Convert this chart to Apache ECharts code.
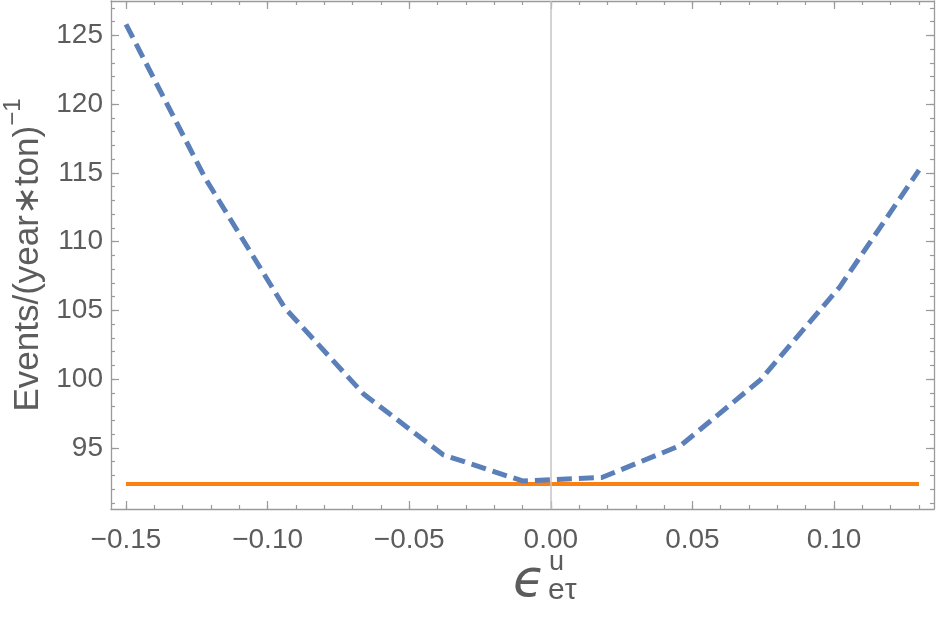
<!DOCTYPE html>
<html>
<head>
<meta charset="utf-8">
<script src="https://cdn.jsdelivr.net/npm/echarts@6/dist/echarts.min.js"></script>
<style>
  html, body { margin: 0; padding: 0; background: #fff; }
  #chart { width: 938px; height: 617px; }
</style>
</head>
<body>
<div id="chart"></div>
<script>
// values
const epsValues = [-0.15, -0.122, -0.094, -0.066, -0.038, -0.01, 0.018, 0.046, 0.074, 0.102, 0.13];
const eventRates = [125.8, 114.6, 105.2, 98.9, 94.5, 92.6, 92.85, 95.2, 99.95, 106.7, 115.2];
const smRangeX = [-0.15, 0.13];
const smRate = [92.38, 92.38];

const xMajorTicks = [-0.15, -0.10, -0.05, 0.00, 0.05, 0.10];
const yMajorTicks = [95, 100, 105, 110, 115, 120, 125];

const xMinorTicks = [];
for (let i = -15; i <= 13; i++) xMinorTicks.push(i / 100);
const yMinorTicks = [];
for (let v = 91; v <= 127; v++) yMinorTicks.push(v);

const chart = echarts.init(document.getElementById('chart'));

const frameColor = '#9a9a9a';
const labelColor = '#5c5c5c';
const font = 'Liberation Sans';
const X_MIN = -0.1553, X_MAX = 0.1353;
const Y_MIN = 90.56, Y_MAX = 127.5;

function xAxisDef(position, ticks, len, withLabels, showLine) {
  return {
    type: 'value', min: X_MIN, max: X_MAX, position: position,
    axisLine: { show: showLine, onZero: false, lineStyle: { color: frameColor, width: 1.3 } },
    axisTick: { show: true, inside: true, length: len, customValues: ticks,
      lineStyle: { color: frameColor, width: 1.2 } },
    axisLabel: withLabels ? {
      show: true, customValues: ticks, margin: 17,
      color: labelColor, fontSize: 28, fontFamily: font,
      formatter: v => (v < 0 ? '\u2212' : '') + Math.abs(v).toFixed(2)
    } : { show: false },
    splitLine: { show: false }
  };
}

function yAxisDef(position, ticks, len, withLabels, showLine) {
  const ax = {
    type: 'value', min: Y_MIN, max: Y_MAX, position: position,
    axisLine: { show: showLine, onZero: false, lineStyle: { color: frameColor, width: 1.3 } },
    axisTick: { show: true, inside: true, length: len, customValues: ticks,
      lineStyle: { color: frameColor, width: 1.2 } },
    axisLabel: withLabels ? {
      show: true, customValues: ticks, margin: 8,
      color: labelColor, fontSize: 28, fontFamily: font
    } : { show: false },
    splitLine: { show: false }
  };
  if (withLabels) {
    ax.name = '{a|Events/(year\u2217ton)}{s|\u22121}';
    ax.nameLocation = 'middle';
    ax.nameRotate = 90;
    ax.nameGap = 62;
    ax.nameTextStyle = {
      rich: {
        a: { fontSize: 35, fontFamily: font, color: labelColor, lineHeight: 44, verticalAlign: 'bottom' },
        s: { fontSize: 24, fontFamily: font, color: labelColor, lineHeight: 24, verticalAlign: 'top' }
      }
    };
  }
  return ax;
}

const option = {
  animation: false,
  grid: { left: 111, right: 4, top: 1, bottom: 108, containLabel: false, outerBoundsMode: 'none' },
  xAxis: [
    xAxisDef('bottom', xMajorTicks, 8, true, true),
    xAxisDef('bottom', xMinorTicks, 4, false, false),
    xAxisDef('top', xMajorTicks, 8, false, true),
    xAxisDef('top', xMinorTicks, 4, false, false)
  ],
  yAxis: [
    yAxisDef('left', yMajorTicks, 8, true, true),
    yAxisDef('left', yMinorTicks, 4, false, false),
    yAxisDef('right', yMajorTicks, 8, false, true),
    yAxisDef('right', yMinorTicks, 4, false, false)
  ],
  graphic: [
    { type: 'text', left: 513, top: 556,
      style: { text: '\u03f5', fontSize: 52, fontFamily: 'DejaVu Sans', fontStyle: 'italic', fill: labelColor } },
    { type: 'text', left: 549, top: 549,
      style: { text: 'u', fontSize: 27, fontFamily: font, fill: labelColor } },
    { type: 'text', left: 548, top: 576,
      style: { text: 'e\u03c4', fontSize: 30, fontFamily: font, fill: labelColor } }
  ],
  series: [
    {
      type: 'line', name: 'reference',
      data: smRangeX.map((x, i) => [x, smRate[i]]),
      showSymbol: false, symbol: 'none',
      lineStyle: { color: '#fb8012', width: 4 },
      z: 2,
      markLine: {
        silent: true, symbol: 'none', label: { show: false },
        lineStyle: { color: '#c4c4c4', width: 1.5, type: 'solid' },
        data: [{ xAxis: 0 }]
      }
    },
    {
      type: 'line', name: 'events',
      data: epsValues.map((x, i) => [x, eventRates[i]]),
      showSymbol: false, symbol: 'none',
      lineStyle: { color: '#5b7fb9', width: 5, type: [15, 7] },
      z: 3
    }
  ]
};

chart.setOption(option);
</script>
</body>
</html>
